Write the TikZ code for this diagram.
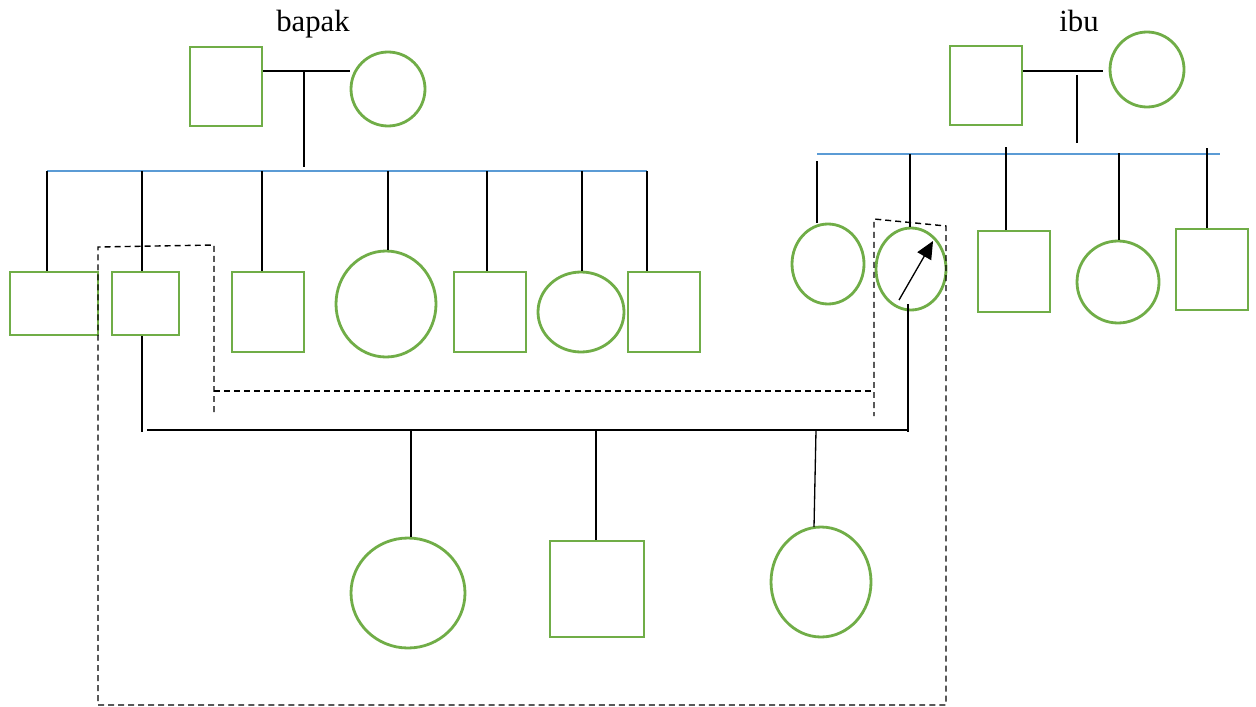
\documentclass[tikz,border=0pt]{standalone}
\usepackage{fontspec}
\setmainfont{Liberation Serif}
\usetikzlibrary{shapes.geometric,arrows.meta}
\newcommand\pxu{0.02cm}
\definecolor{pgreen}{HTML}{70AD47}
\definecolor{pblue}{HTML}{5B9BD5}
\tikzset{
  person/.style={draw=pgreen,line width=1.6pt,inner sep=0pt,fill=none},
  male/.style={person,rectangle},
  female/.style={person,ellipse},
  sz/.style 2 args={minimum width=#1*\pxu,minimum height=#2*\pxu},
  link/.style={draw=black,line width=0.75pt},
  sib/.style={draw=pblue,line width=0.7pt},
  grp/.style={draw=black,line width=0.8pt,dash pattern=on 3.4pt off 2.3pt},
  lbl/.style={font=\fontsize{17.5}{20}\selectfont,inner sep=0pt}
}
\begin{document}
\begin{tikzpicture}[x=0.02cm,y=-0.02cm]
\useasboundingbox (0,0) rectangle (1256,706);
% ---- bapak family
\node[lbl] (lb) at (313,24) {bapak};
\node[male,sz={72}{79}] (bf) at (226,86.5) {};
\node[female,sz={74}{74}] (bm) at (388,89) {};
\coordinate (bj) at (304,71);
\coordinate (bd) at (304,167);
\draw[link] (bf.east |- bj) -- (bj -| bm.west);
\draw[link] (bj) -- (bd);
\coordinate (bl1) at (47,171);
\coordinate (bl2) at (647,171);
\draw[sib] (bl1) -- (bl2);
\node[male,sz={88}{63}] (c1) at (54,303.5) {};
\node[male,sz={67}{63}] (c2) at (145.5,303.5) {};
\node[male,sz={72}{80}] (c3) at (268,312) {};
\node[female,sz={100}{106}] (c4) at (386,304) {};
\node[male,sz={72}{80}] (c5) at (490,312) {};
\node[female,sz={86}{80}] (c6) at (581,312) {};
\node[male,sz={72}{80}] (c7) at (664,312) {};
\foreach \n/\x in {c1/47,c2/142,c3/262,c4/388,c5/487,c6/582,c7/647}
  \draw[link] (\x,171) -- (\n.north -| \x,0);
% ---- ibu family
\node[lbl] (li) at (1079,21) {ibu};
\node[male,sz={72}{79}] (if) at (986,85.5) {};
\node[female,sz={74}{75}] (im) at (1147,69.5) {};
\coordinate (ij) at (1077,71);
\draw[link] (if.east |- ij) -- (1103,71);
\draw[link] (1077,75) -- (1077,143);
\draw[sib] (817,154) -- (1220,154);
\node[female,sz={72}{80}] (r1) at (828,264) {};
\node[female,sz={70}{82}] (r2) at (911,269) {};
\node[male,sz={72}{81}] (r3) at (1014,271.5) {};
\node[female,sz={82}{82}] (r4) at (1118,282) {};
\node[male,sz={72}{81}] (r5) at (1212,269.5) {};
\draw[link] (817,161) -- (817,223);
\draw[link] (910,154) -- (r2.north -| 910,0);
\draw[link] (1006,147) -- (r3.north -| 1006,0);
\draw[link] (1119,153) -- (r4.north -| 1119,0);
\draw[link] (1207,148) -- (r5.north -| 1207,0);
\coordinate (as) at (899,300);
\coordinate (ae) at (933,241);
\draw[link,-{Triangle[length=10pt,width=9pt]}] (as) -- (ae);
% ---- marriage and grandchildren
\coordinate (ml) at (147,430);
\coordinate (mr) at (909,430);
\draw[link] (c2.south -| 142,0) -- (142,432);
\draw[link] (ml) -- (mr);
\draw[link] (908,304) -- (908,432);
\node[female,sz={114}{110}] (g1) at (408,593) {};
\node[male,sz={94}{96}] (g2) at (597,589) {};
\node[female,sz={100}{110}] (g3) at (821,582) {};
\draw[link] (411,430) -- (g1.north -| 411,0);
\draw[link] (596,430) -- (g2.north -| 596,0);
\draw[link] (816,430) -- (814,527);
% ---- dashed grouping
\draw[grp] (214,412) -- (214,245) -- (98,247) -- (98,705) -- (946,705) -- (946,226) -- (874,219) -- (874,416);
\draw[grp] (214,391) -- (874,391);
\end{tikzpicture}
\end{document}
